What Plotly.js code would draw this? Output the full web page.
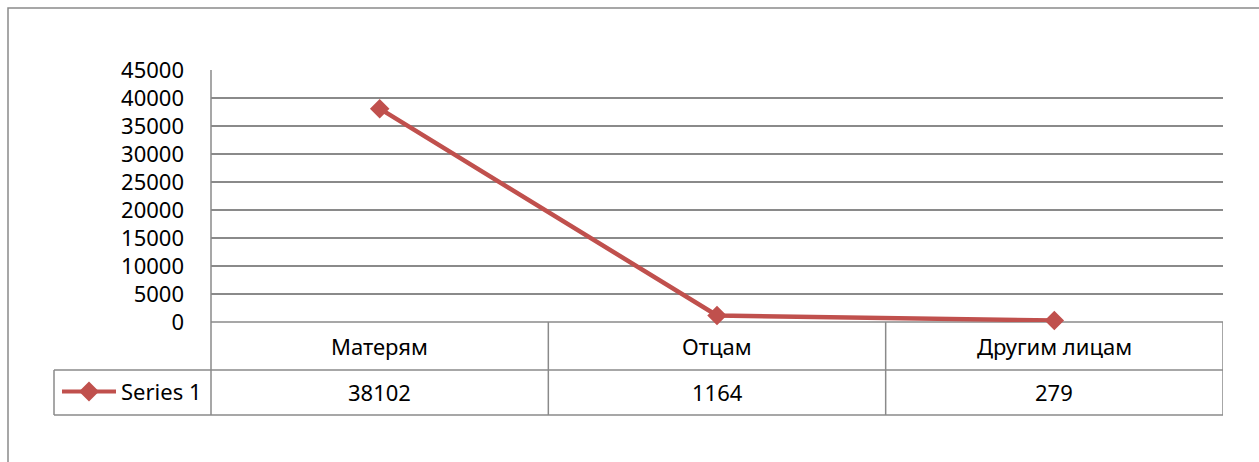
<!DOCTYPE html>
<html><head><meta charset="utf-8">
<script src="https://cdn.plot.ly/plotly-3.0.1.min.js"></script>
<style>html,body{margin:0;padding:0;background:#fff}#chart{width:1259px;height:462px}</style>
</head><body><div id="chart"></div>
<script>
const categories = ["Матерям", "Отцам", "Другим лицам"];
const values = [38102, 1164, 279];
const seriesName = "Series 1";
const yTicks = [0, 5000, 10000, 15000, 20000, 25000, 30000, 35000, 40000, 45000];

const W = 1259, H = 462;
const L = 211, R = 1223, T = 70, B = 322;
const pw = R - L, ph = B - T;
const px = x => (x - L) / pw;        // pixel x -> paper x
const py = y => (B - y) / ph;        // pixel y -> paper y

const gray = "#8a8a8a";
const red = "#C0504D";
const font = {family: "Noto Sans, Open Sans, sans-serif", size: 22, color: "#000"};

const n = categories.length;
const shapes = [];
const line = (x0, y0, x1, y1, xref) => shapes.push({type: "line", xref: xref || "paper", yref: "paper",
  x0, y0, x1, y1, line: {color: gray, width: 1.5}, layer: "below"});

// outer chart border
shapes.push({type: "rect", xref: "paper", yref: "paper", x0: px(8), x1: px(1275), y0: py(8), y1: py(480),
  line: {color: gray, width: 1.5}, fillcolor: "rgba(0,0,0,0)", layer: "below"});
// left axis line, plot area down through table
line(0, py(T), 0, py(415));
// zero line / top of table
line(0, 0, 1, 0);
// table horizontal lines
line(px(54), py(370), 1, py(370));
line(px(54), py(415), 1, py(415));
line(px(54), py(370), px(54), py(415));
// table column dividers, at category boundaries
for (let i = 0; i < n; i++) {
  line(i + 0.5, py(B), i + 0.5, py(415), "x");
}
// legend key
shapes.push({type: "line", xref: "paper", yref: "paper", x0: px(62), x1: px(116), y0: py(391.5), y1: py(391.5),
  line: {color: red, width: 4}, layer: "above"});
shapes.push({type: "path", xref: "paper", yref: "paper", xsizemode: "pixel", ysizemode: "pixel",
  xanchor: px(89), yanchor: py(391.5), path: "M -10 0 L 0 -10 L 10 0 L 0 10 Z",
  fillcolor: red, line: {color: red, width: 0}, layer: "above"});

const annotations = [];
categories.forEach((c, i) => {
  annotations.push({x: i, xref: "x", y: py(346), yref: "paper", text: c, showarrow: false, font, xanchor: "center", yanchor: "middle"});
  annotations.push({x: i, xref: "x", y: py(392), yref: "paper", text: String(values[i]), showarrow: false, font, xanchor: "center", yanchor: "middle"});
});
annotations.push({x: px(119), xref: "paper", y: py(391), yref: "paper", text: seriesName, showarrow: false, font, xanchor: "left", yanchor: "middle"});

const trace = {
  x: [0, 1, 2], y: values, type: "scatter", mode: "lines+markers",
  line: {color: red, width: 4.5}, marker: {symbol: "diamond", size: 15, color: red},
  hoverinfo: "skip", showlegend: false, cliponaxis: false
};

const layout = {
  width: W, height: H,
  margin: {l: L, r: W - R, t: T, b: H - B, pad: 0},
  paper_bgcolor: "#fff", plot_bgcolor: "#fff",
  showlegend: false,
  xaxis: {range: [-0.5, n - 0.5], showticklabels: false, showgrid: false, zeroline: false, showline: false, fixedrange: true,
    tickvals: [0, 1, 2]},
  yaxis: {range: [0, 45000], tickvals: yTicks, ticktext: yTicks.map(String), showgrid: true, gridcolor: gray, gridwidth: 1.5,
    zeroline: false, showline: false, ticks: "", ticklabelstandoff: 26, tickfont: font, fixedrange: true},
  shapes, annotations,
  font
};
Plotly.newPlot("chart", [trace], layout, {displayModeBar: false, staticPlot: true});
</script></body></html>
